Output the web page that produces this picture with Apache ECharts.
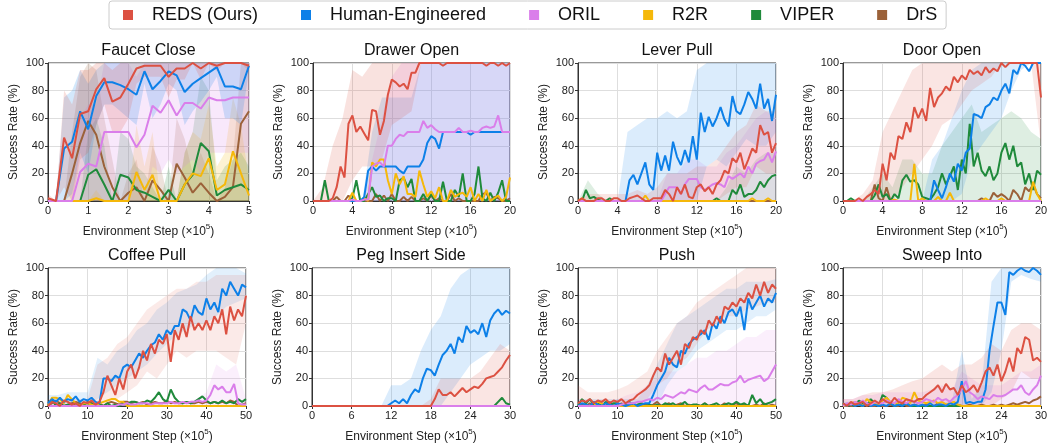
<!DOCTYPE html>
<html>
<head>
<meta charset="utf-8">
<script src="https://cdn.jsdelivr.net/npm/echarts@6/dist/echarts.min.js"></script>
<style>
  html, body { margin: 0; padding: 0; background: #fff; }
  #chart { width: 1047px; height: 444px; }
</style>
</head>
<body>
<div id="chart"></div>
<script>
// ---------------- data ----------------
const methods = ['REDS (Ours)', 'Human-Engineered', 'ORIL', 'R2R', 'VIPER', 'DrS'];
const titles = ['Faucet Close', 'Drawer Open', 'Lever Pull', 'Door Open', 'Coffee Pull', 'Peg Insert Side', 'Push', 'Sweep Into'];
const xMax = [5, 20, 20, 20, 50, 30, 50, 30];
const xTickStep = [1, 4, 4, 4, 10, 6, 10, 6];
const yTicks = [0, 20, 40, 60, 80, 100];

// Faucet Close (x every 0.2)
const faucetReds  = [2,0,46,31,63,65,81,89,72,75,85,96,98,98,98,90,96,96,100,96,100,98,100,100,100,98];
const faucetHuman = [0,0,38,43,65,52,76,86,86,84,81,77,94,81,87,94,91,79,85,89,93,97,83,83,81,98];
const faucetOril  = [0,0,0,0,21,27,25,50,50,50,50,39,48,69,64,73,62,71,71,67,75,73,73,75,75,75];
const faucetR2r   = [0,0,0,0,0,0,2,0,0,0,0,21,8,19,0,0,0,12,20,18,31,8,12,36,20,4];
const faucetViper = [0,0,0,0,0,19,23,12,0,19,17,8,6,3,0,8,0,12,19,42,36,4,8,10,12,8];
const faucetDrs   = [0,0,0,20,42,58,48,25,10,0,6,10,0,15,8,0,27,17,6,13,6,0,3,10,56,65];
const faucetRedsLo  = [0,0,10,0,30,35,55,70,50,50,60,85,90,90,90,75,88,88,100,88,100,94,100,100,100,94];
const faucetRedsHi  = [5,0,80,70,95,95,100,100,95,100,100,100,100,100,100,100,100,100,100,100,100,100,100,100,100,100];
const faucetHumanLo = [0,0,0,5,35,20,55,70,70,65,60,55,85,60,70,85,80,55,65,72,80,90,60,60,55,95];
const faucetHumanHi = [0,0,75,80,95,85,95,100,100,100,100,100,100,100,100,100,100,100,100,100,100,100,100,100,100,100];
const faucetOrilLo  = [0,0,0,0,0,0,0,0,0,0,0,0,0,25,20,30,20,25,30,20,35,35,35,35,35,35];
const faucetOrilHi  = [0,0,0,0,60,70,70,100,100,100,100,90,100,100,100,100,100,100,100,100,100,100,100,100,100,100];
const faucetR2rHi   = [0,0,0,0,0,0,8,0,0,0,0,55,25,50,0,0,0,35,50,45,70,25,35,75,55,15];
const faucetViperHi = [0,0,0,0,0,50,60,40,0,50,45,25,20,10,0,25,0,35,50,90,80,15,25,30,35,25];
const faucetDrsHi   = [0,0,0,50,90,100,95,60,30,0,20,30,0,40,25,0,60,45,20,35,20,0,10,30,100,100];

// Drawer Open (x every 0.4, bands every 1)
const drawerReds = [0,0,0,0,0,2,10,25,17,56, 62,50,54,49,44,66,65,48,58,77, 88,86,83,85,81,93,93,100,100,100,
  100,100,100,98,100,100,100,100,100,100, 100,100,100,100,98,100,100,98,100,98, 100];
const drawerHuman = [0,0,0,0,0,0,0,0,0,0, 0,0,0,3,22,25,22,25,25,25, 25,25,22,20,25,25,25,25,30,42,
  47,45,38,50,50,50,50,50,50,50, 48,50,50,50,50,50,50,50,50,50, 50];
const drawerOril = [0,0,0,0,0,0,0,0,0,0, 1,0,0,1,1,25,27,28,25,40, 40,45,48,47,50,50,50,50,58,53,
  55,52,50,50,50,50,50,53,50,50, 51,50,50,53,54,53,54,62,50,50, 50];
const drawerR2r = [0,0,0,0,0,0,0,0,0,0, 6,0,0,2,0,28,25,30,30,15, 5,20,12,18,5,5,3,22,12,3,
  7,2,10,0,0,8,3,5,6,3, 10,0,5,0,8,0,2,4,0,3, 17];
const drawerViper = [0,0,0,15,0,0,0,0,0,0, 2,15,0,0,5,10,3,4,0,2, 2,0,15,17,10,16,0,0,5,0,
  5,0,0,14,0,0,8,3,20,0, 0,5,25,2,0,6,0,6,15,0, 0];
const drawerDrs = [0,0,0,0,0,0,3,0,0,4, 0,0,0,0,0,0,5,0,4,0, 5,0,0,3,0,3,0,0,2,0,
  4,0,2,0,0,5,0,2,0,0, 0,0,0,5,6,0,3,2,0,0, 2];
const drawerRedsLo  = [0,0,0,0,15,25,25,30,55,60,65,100,100,100,100,100,100,100,100,100,100];
const drawerRedsHi  = [0,10,40,60,95,90,100,100,100,100,100,100,100,100,100,100,100,100,100,100,100];
const drawerHumanHi = [0,0,0,0,0,0,50,75,75,75,75,100,100,100,100,100,100,100,100,100,100];
const drawerOrilHi  = [0,0,0,0,0,0,30,60,90,100,100,100,100,100,100,100,100,100,100,100,100];

// Lever Pull (x every 0.4, bands every 1)
const leverReds = [0,2,0,0,0,2,2,0,0,2, 2,0,0,2,3,4,2,0,0,2, 2,2,8,5,0,10,5,12,3,2,
  10,12,7,10,5,12,15,22,20,31, 28,35,23,30,38,35,55,48,50,35, 42];
const leverHuman = [0,0,0,0,0,0,0,0,0,0, 0,0,0,15,19,12,20,28,12,8, 35,22,33,22,43,32,26,37,28,47,
  30,64,50,61,54,60,68,59,54,76, 65,63,70,79,74,67,85,67,74,58, 77];
const leverOril = [0,0,0,0,0,0,0,0,0,0, 0,0,0,0,0,0,0,0,0,0, 0,0,5,10,10,10,5,12,16,16,
  16,10,8,10,12,13,12,10,18,16, 18,20,17,25,20,27,29,30,35,28, 36];
const leverR2r = [0,2,0,0,0,0,0,0,0,0, 0,0,0,0,0,0,0,4,0,0, 0,0,0,0,0,0,0,0,0,0,
  0,0,0,0,0,0,0,0,0,0, 0,0,0,0,2,0,0,0,2,0, 0];
const leverViper = [0,0,8,2,3,1,0,0,2,0, 0,0,0,0,0,0,0,0,0,0, 0,0,0,0,0,0,0,0,0,0,
  0,0,0,0,0,2,0,0,0,8, 5,12,3,5,5,8,14,10,15,18, 19];
const leverDrs = [0,0,0,0,0,0,0,0,0,0, 0,0,0,0,0,0,0,0,0,0, 0,0,0,0,0,0,0,0,0,0,
  0,0,0,0,0,0,0,0,0,0, 0,0,0,0,0,0,0,0,0,0, 0];
const leverRedsLo  = [0,0,0,0,0,0,0,0,0,0,0,0,0,0,0,5,10,10,25,20,20];
const leverRedsHi  = [0,5,5,5,5,5,8,5,10,20,20,20,25,25,30,40,50,55,70,65,65];
const leverHumanLo = [0,0,0,0,0,0,0,0,0,0,0,0,0,25,30,25,35,45,40,40,50];
const leverHumanHi = [0,0,0,0,0,50,55,60,60,65,60,65,95,100,100,100,100,100,100,100,100];
const leverOrilHi  = [0,0,0,0,0,0,0,0,0,20,20,30,30,25,25,35,40,50,60,65,60];
const leverViperHi = [0,15,5,0,0,0,0,0,0,0,0,0,0,0,0,10,25,20,30,35,35];

// Door Open (x every 0.4, bands every 1)
const doorReds = [0,0,0,0,2,0,3,5,8,5, 27,15,35,30,47,45,57,50,68,60, 67,58,82,68,75,78,83,80,90,86,
  91,88,95,92,94,91,97,93,96,94, 100,97,100,100,100,100,100,100,100,100, 75];
const doorHuman = [0,0,0,0,0,0,0,0,0,0, 0,0,0,0,0,0,0,0,0,0, 0,0,0,15,8,2,10,20,14,27,
  22,35,38,63,62,60,68,70,75,73, 80,85,78,95,92,100,98,94,100,100, 100];
const doorOril = [0,0,0,0,0,0,0,0,0,0, 0,0,0,0,0,0,0,0,0,0, 0,0,0,0,0,0,0,0,0,0,
  0,0,0,0,0,0,0,0,0,0, 0,0,0,0,0,0,0,0,0,0, 0];
const doorR2r = [0,0,0,0,0,0,0,0,0,0, 0,0,0,1,0,0,0,0,27,0, 2,0,0,0,3,0,0,6,0,0,
  0,0,0,0,0,0,2,0,0,0, 2,0,0,0,0,0,0,0,14,5, 0];
const doorViper = [0,0,2,0,0,0,0,0,4,12, 3,5,0,5,2,15,19,14,15,12, 3,2,1,5,10,20,12,18,25,8,
  30,20,56,25,35,22,18,25,15,20, 35,42,30,40,25,28,12,20,8,22, 19];
const doorDrs = [0,0,0,0,0,0,0,0,12,2, 0,10,0,0,0,0,0,0,0,0, 0,0,0,0,0,0,0,0,0,0,
  0,0,0,0,0,2,0,0,6,3, 5,3,0,8,5,0,10,7,12,5, 2];
const doorRedsLo  = [0,0,0,0,0,0,10,20,30,40,55,60,70,80,85,90,100,100,100,100,40];
const doorRedsHi  = [0,0,5,15,50,65,80,95,100,100,100,100,100,100,100,100,100,100,100,100,100];
const doorHumanLo = [0,0,0,0,0,0,0,0,0,0,0,0,5,30,40,50,60,80,95,100,100];
const doorHumanHi = [0,0,0,0,0,0,0,0,0,30,40,60,80,95,100,100,100,100,100,100,100];
const doorViperHi = [0,0,0,10,20,10,30,30,20,20,40,50,60,70,50,55,60,65,60,50,45];

// Coffee Pull (x every 1, bands every 2.5)
const coffeeReds = [0,3,2,0,4,3,1,2,0,3, 2,4,1,3,10,22,15,8,20,12, 25,30,20,28,40,33,45,38,48,45,
  52,32,55,48,60,50,65,55,60,55, 62,55,65,60,70,52,72,62,70,65, 80];
const coffeeHuman = [2,5,3,6,3,5,4,7,3,5, 4,6,3,2,20,20,18,22,20,28, 30,28,33,38,35,40,44,46,52,48,
  55,52,58,58,70,68,62,73,68,66, 78,70,75,68,85,80,90,85,80,88, 86];
const coffeeOril = [0,0,0,0,0,0,0,0,0,0, 0,0,0,0,0,0,0,0,1,1, 2,1,1,2,2,2,1,2,2,2,
  2,3,2,2,3,2,3,3,4,3, 4,8,15,12,14,10,10,16,2,1, 1];
const coffeeR2r = [0,6,6,5,2,8,5,2,0,2, 2,1,0,2,3,4,5,5,3,3, 0,0,0,0,0,0,0,0,0,0,
  0,0,0,0,0,0,0,0,0,0, 0,0,0,0,0,0,0,0,0,0, 0];
const coffeeViper = [0,5,0,2,0,1,0,2,0,1, 0,2,0,1,0,2,0,1,0,2, 1,3,3,2,2,4,3,6,10,5,
  3,12,6,3,2,3,2,3,5,7, 4,2,3,2,4,2,3,2,5,3, 5];
const coffeeDrs = [0,2,4,2,0,1,2,3,2,1, 3,2,1,2,0,2,3,2,1,3, 3,2,3,2,3,1,2,3,2,2,
  4,2,3,2,2,3,2,2,3,2, 3,2,3,2,3,2,4,3,0,1, 2];
const coffeeRedsLo  = [0,0,0,0,0,0,0,5,10,15,25,20,30,40,35,40,40,40,35,30,60];
const coffeeRedsHi  = [5,5,5,5,5,30,35,45,50,60,70,75,80,85,85,90,90,95,95,95,95];
const coffeeHumanLo = [0,0,0,0,0,5,10,15,20,25,30,38,45,52,55,60,60,65,72,75,78];
const coffeeHumanHi = [8,8,10,10,10,35,30,40,45,55,60,70,75,82,85,88,95,100,100,100,96];
const coffeeOrilHi  = [0,0,0,0,0,0,0,0,3,3,3,3,3,3,3,5,10,30,25,30,5];

// Peg Insert Side (x every 0.6, bands every 1.5)
const pegReds = [0,0,0,0,0,0,0,0,0,0, 0,0,0,0,0,0,0,0,0,0, 0,0,0,0,0,0,0,0,0,0,
  0,5,12,8,8,10,7,10,13,10, 12,14,13,16,20,21,22,25,28,33, 37];
const pegHuman = [0,0,0,0,0,0,0,0,0,0, 0,0,0,0,0,0,0,0,0,0, 2,4,2,5,2,8,12,10,20,27,
  26,22,30,37,40,45,38,50,46,58, 53,55,52,60,50,62,67,70,66,69, 67];
const pegOril = [0,0,0,0,0,0,0,0,0,0, 0,0,0,0,0,0,0,0,0,0, 0,0,0,0,0,0,0,0,0,0,
  0,0,0,0,0,0,0,0,0,0, 0,0,0,0,0,0,0,0,0,0, 0];
const pegR2r = pegOril;
const pegViper = [0,0,0,0,0,0,0,0,0,0, 0,0,0,0,0,0,0,0,0,0, 0,0,0,0,0,0,0,0,0,0,
  0,0,0,0,0,0,0,0,0,0, 0,0,0,0,0,0,0,3,6,2, 1];
const pegDrs = pegOril;
const pegRedsHi   = [0,0,0,0,0,0,0,0,0,0,0,0,5,20,20,20,20,25,35,45,40];
const pegHumanLo  = [0,0,0,0,0,0,0,0,0,0,0,0,0,0,10,20,30,35,40,40,45];
const pegHumanHi  = [0,0,0,0,0,0,0,0,15,15,20,40,55,65,85,95,100,100,100,100,100];

// Push (x every 1, bands every 2.5)
const pushReds = [2,4,3,5,2,4,3,5,2,4, 3,5,2,4,5,8,10,12,15,22, 28,25,38,30,35,40,30,45,42,50,
  48,55,52,62,58,65,60,72,70,75, 72,78,75,82,78,88,80,90,82,88, 85];
const pushHuman = [0,2,1,0,3,1,0,2,1,0, 2,1,0,1,2,0,1,2,2,8, 15,20,25,35,30,28,40,38,45,48,
  50,52,55,48,60,56,65,60,68,70, 65,72,55,78,70,75,80,72,78,75, 82];
const pushOril = [0,0,0,0,0,0,0,0,0,0, 0,1,2,2,2,3,3,4,5,4, 6,5,8,7,6,8,10,9,12,11,
  10,13,15,12,12,14,16,15,15,17, 18,22,17,19,20,21,22,18,20,25, 30];
const pushR2r = [0,0,0,0,0,3,2,0,0,0, 0,0,0,0,0,0,0,0,0,0, 0,0,0,0,0,0,0,0,0,0,
  0,0,0,0,0,0,0,0,0,0, 0,0,0,0,0,0,0,0,0,0, 0];
const pushViper = [0,5,2,5,1,2,0,3,1,2, 2,0,1,3,0,1,2,0,1,0, 1,0,2,1,2,0,1,3,0,1,
  1,0,2,0,1,2,0,1,2,1, 3,1,2,0,8,2,5,1,2,3, 5];
const pushDrs = [0,1,0,2,0,1,0,0,3,0, 0,2,0,1,0,0,2,1,0,1, 3,0,1,2,0,1,2,0,1,0,
  1,0,2,0,1,0,0,2,0,1, 2,0,1,0,0,1,0,2,0,1, 0];
const pushRedsLo  = [0,0,0,0,0,0,0,5,15,20,30,35,45,55,60,65,65,70,72,75,75];
const pushRedsHi  = [15,10,10,10,12,15,20,25,40,50,60,65,75,80,85,90,95,100,100,100,100];
const pushHumanLo = [0,0,0,0,0,0,0,0,0,15,25,30,40,45,50,55,55,60,65,65,70];
const pushHumanHi = [5,5,5,5,5,5,5,15,30,45,60,65,70,75,80,85,85,90,90,90,92];
const pushOrilHi  = [0,0,0,0,5,8,10,15,20,25,25,30,35,35,40,40,45,50,50,55,55];

// Sweep Into (x every 0.6, bands every 1.5)
const sweepReds = [2,0,3,1,2,3,0,2,4,2, 5,3,2,6,3,2,5,4,3,5, 5,8,10,12,15,10,16,12,13,8,
  15,10,12,15,10,17,25,28,22,30, 18,25,35,25,42,38,50,48,33,35, 32];
const sweepHuman = [1,0,2,0,1,0,2,0,1,0, 1,0,2,0,1,0,2,0,1,0, 1,0,2,0,1,1,0,2,1,3,
  18,2,3,2,3,3,12,40,58,75, 75,66,97,95,98,100,98,97,100,98, 95];
const sweepOril = [0,2,1,3,2,4,2,1,3,2, 2,4,3,2,5,3,2,4,3,2, 3,5,4,3,6,4,5,3,6,8,
  12,18,10,8,5,7,6,5,8,7, 7,8,10,12,12,15,10,8,12,15, 22];
const sweepR2r = [0,0,2,3,1,0,5,3,2,0, 4,6,3,2,2,6,5,2,10,4, 3,2,3,4,2,3,1,2,3,1,
  0,0,0,0,0,0,0,0,0,0, 0,0,0,0,0,0,0,0,0,0, 0];
const sweepViper = [2,0,1,0,4,2,0,5,2,0, 8,6,2,0,1,0,2,0,0,0, 0,0,0,0,0,0,0,0,0,0,
  0,0,0,0,0,0,0,0,0,0, 0,0,0,0,0,0,0,0,0,0, 0];
const sweepDrs = [0,1,0,0,2,0,1,0,0,1, 0,0,1,0,0,2,0,0,1,0, 0,1,0,0,2,0,1,0,0,1,
  0,0,1,0,0,1,0,0,1,0, 1,0,1,2,1,2,3,2,4,5, 7];
const sweepRedsLo  = [0,0,0,0,0,0,0,0,0,0,0,0,0,0,0,0,5,10,25,20,20];
const sweepRedsHi  = [5,5,8,10,10,12,15,18,20,25,30,25,30,30,35,45,40,55,60,60,55];
const sweepHumanLo = [0,0,0,0,0,0,0,0,0,0,0,0,0,0,0,10,40,90,95,92,90];
const sweepHumanHi = [3,3,3,3,3,3,3,3,3,3,3,3,40,5,15,90,100,100,100,100,100];
const sweepOrilHi  = [5,5,8,8,10,10,10,10,10,12,15,12,25,20,15,15,15,20,25,25,30];

// ---------------- style / layout ----------------
const colors = ['#dc5142', '#0d80e8', '#da7eea', '#f5b80a', '#1f8a3b', '#9b6139'];
const drawOrder = [5, 4, 3, 1, 2, 0]; // DrS, VIPER, R2R, Human, ORIL, REDS on top
const bandOpacity = [0.18, 0.17, 0.15, 0.15, 0.12, 0.15, 0.12, 0.15];
// plot boxes: [left, right, top, bottom] in px
const boxes = [
  [48, 249, 63, 201], [313, 510, 63, 201], [578, 776, 63, 201], [843, 1041, 63, 201],
  [48, 246, 268, 406], [312, 510, 268, 406], [578, 776, 268, 406], [843, 1041, 268, 406]
];
const FONT = '"Liberation Sans", Arial, sans-serif';

const panelLines = [
  [faucetReds, faucetHuman, faucetOril, faucetR2r, faucetViper, faucetDrs],
  [drawerReds, drawerHuman, drawerOril, drawerR2r, drawerViper, drawerDrs],
  [leverReds, leverHuman, leverOril, leverR2r, leverViper, leverDrs],
  [doorReds, doorHuman, doorOril, doorR2r, doorViper, doorDrs],
  [coffeeReds, coffeeHuman, coffeeOril, coffeeR2r, coffeeViper, coffeeDrs],
  [pegReds, pegHuman, pegOril, pegR2r, pegViper, pegDrs],
  [pushReds, pushHuman, pushOril, pushR2r, pushViper, pushDrs],
  [sweepReds, sweepHuman, sweepOril, sweepR2r, sweepViper, sweepDrs]
];
// [method index, lower (null = 0), upper]
const panelBands = [
  [[5, null, faucetDrsHi], [4, null, faucetViperHi], [3, null, faucetR2rHi], [2, faucetOrilLo, faucetOrilHi],
   [1, faucetHumanLo, faucetHumanHi], [0, faucetRedsLo, faucetRedsHi]],
  [[1, null, drawerHumanHi], [2, null, drawerOrilHi], [0, drawerRedsLo, drawerRedsHi]],
  [[4, null, leverViperHi], [2, null, leverOrilHi], [1, leverHumanLo, leverHumanHi], [0, leverRedsLo, leverRedsHi]],
  [[4, null, doorViperHi], [1, doorHumanLo, doorHumanHi], [0, doorRedsLo, doorRedsHi]],
  [[2, null, coffeeOrilHi], [1, coffeeHumanLo, coffeeHumanHi], [0, coffeeRedsLo, coffeeRedsHi]],
  [[1, pegHumanLo, pegHumanHi], [0, null, pegRedsHi]],
  [[2, null, pushOrilHi], [1, pushHumanLo, pushHumanHi], [0, pushRedsLo, pushRedsHi]],
  [[2, null, sweepOrilHi], [1, sweepHumanLo, sweepHumanHi], [0, sweepRedsLo, sweepRedsHi]]
];

function steps(n, max) {
  const out = [];
  for (let i = 0; i < n; i++) out.push(+(i * max / (n - 1)).toFixed(3));
  return out;
}

// polygon between lower and upper curve, placed through the grid's own axes
function bandRenderer(bx, lo, hi, color, alpha) {
  return function (params, api) {
    const pts = [];
    for (let j = 0; j < bx.length; j++) pts.push(api.coord([bx[j], hi[j]]));
    for (let j = bx.length - 1; j >= 0; j--) pts.push(api.coord([bx[j], lo ? lo[j] : 0]));
    return {
      type: 'polygon', silent: true,
      shape: { points: pts },
      style: { fill: color, opacity: alpha }
    };
  };
}

// ---------------- build option ----------------
const grids = [], xAxes = [], yAxes = [], titleList = [], series = [];

boxes.forEach((b, i) => {
  grids.push({
    left: b[0], top: b[2], width: b[1] - b[0], height: b[3] - b[2],
    show: true, borderColor: '#333', borderWidth: 1, outerBoundsMode: 'none'
  });
  titleList.push({
    text: titles[i], left: (b[0] + b[1]) / 2, top: b[2] - 20, textAlign: 'center', padding: 0,
    textStyle: { fontFamily: FONT, fontSize: 16, fontWeight: 'normal', color: '#111' }
  });
  xAxes.push({
    type: 'value', gridIndex: i, min: 0, max: xMax[i], interval: xTickStep[i],
    name: '{n|Environment Step (×10}{s|5}{n|)}', nameLocation: 'middle', nameGap: 22,
    nameTextStyle: {
      rich: {
        n: { fontFamily: FONT, fontSize: 12, color: '#222', verticalAlign: 'bottom' },
        s: { fontFamily: FONT, fontSize: 8, color: '#222', verticalAlign: 'bottom', padding: [0, 0, 7, 0] }
      }
    },
    axisLine: { show: true, lineStyle: { color: '#333', width: 1 } },
    axisTick: { show: true, length: 3, lineStyle: { color: '#333' } },
    axisLabel: { fontFamily: FONT, fontSize: 11, color: '#222', margin: 4 },
    splitLine: { show: true, lineStyle: { color: '#dedede', width: 1 } }
  });
  yAxes.push({
    type: 'value', gridIndex: i, min: yTicks[0], max: yTicks[yTicks.length - 1], interval: yTicks[1] - yTicks[0],
    name: 'Success Rate (%)', nameLocation: 'middle', nameGap: 28,
    nameTextStyle: { fontFamily: FONT, fontSize: 12, color: '#222' },
    axisLine: { show: true, lineStyle: { color: '#333', width: 1 } },
    axisTick: { show: true, length: 3, lineStyle: { color: '#333' } },
    axisLabel: { fontFamily: FONT, fontSize: 11, color: '#222', margin: 4 },
    splitLine: { show: true, lineStyle: { color: '#dedede', width: 1 } }
  });

  // shaded bands
  panelBands[i].forEach(band => {
    const m = band[0], lo = band[1], hi = band[2];
    const bx = steps(hi.length, xMax[i]);
    series.push({
      type: 'custom', xAxisIndex: i, yAxisIndex: i, silent: true, z: 1,
      renderItem: bandRenderer(bx, lo, hi, colors[m], bandOpacity[i]),
      data: [[0, 0]]
    });
  });

  // mean lines
  drawOrder.forEach(m => {
    const ys = panelLines[i][m];
    const xs = steps(ys.length, xMax[i]);
    series.push({
      name: methods[m], type: 'line', xAxisIndex: i, yAxisIndex: i, silent: true,
      symbol: 'none', z: 3,
      lineStyle: { color: colors[m], width: 2 },
      itemStyle: { color: colors[m] },
      data: xs.map((x, j) => [x, ys[j]])
    });
  });
});

const option = {
  animation: false,
  backgroundColor: '#fff',
  title: titleList,
  legend: {
    data: methods, top: 1, left: 109,
    padding: [5, 9, 5, 14],
    borderColor: '#cccccc', borderWidth: 1, borderRadius: 3,
    icon: 'rect', itemWidth: 10, itemHeight: 10, itemGap: 43,
    textStyle: { fontFamily: FONT, fontSize: 18, color: '#111', padding: [0, 0, 0, 14] }
  },
  grid: grids,
  xAxis: xAxes,
  yAxis: yAxes,
  series: series
};

const chart = echarts.init(document.getElementById('chart'), null, { renderer: 'canvas' });
chart.setOption(option);
</script>
</body>
</html>
